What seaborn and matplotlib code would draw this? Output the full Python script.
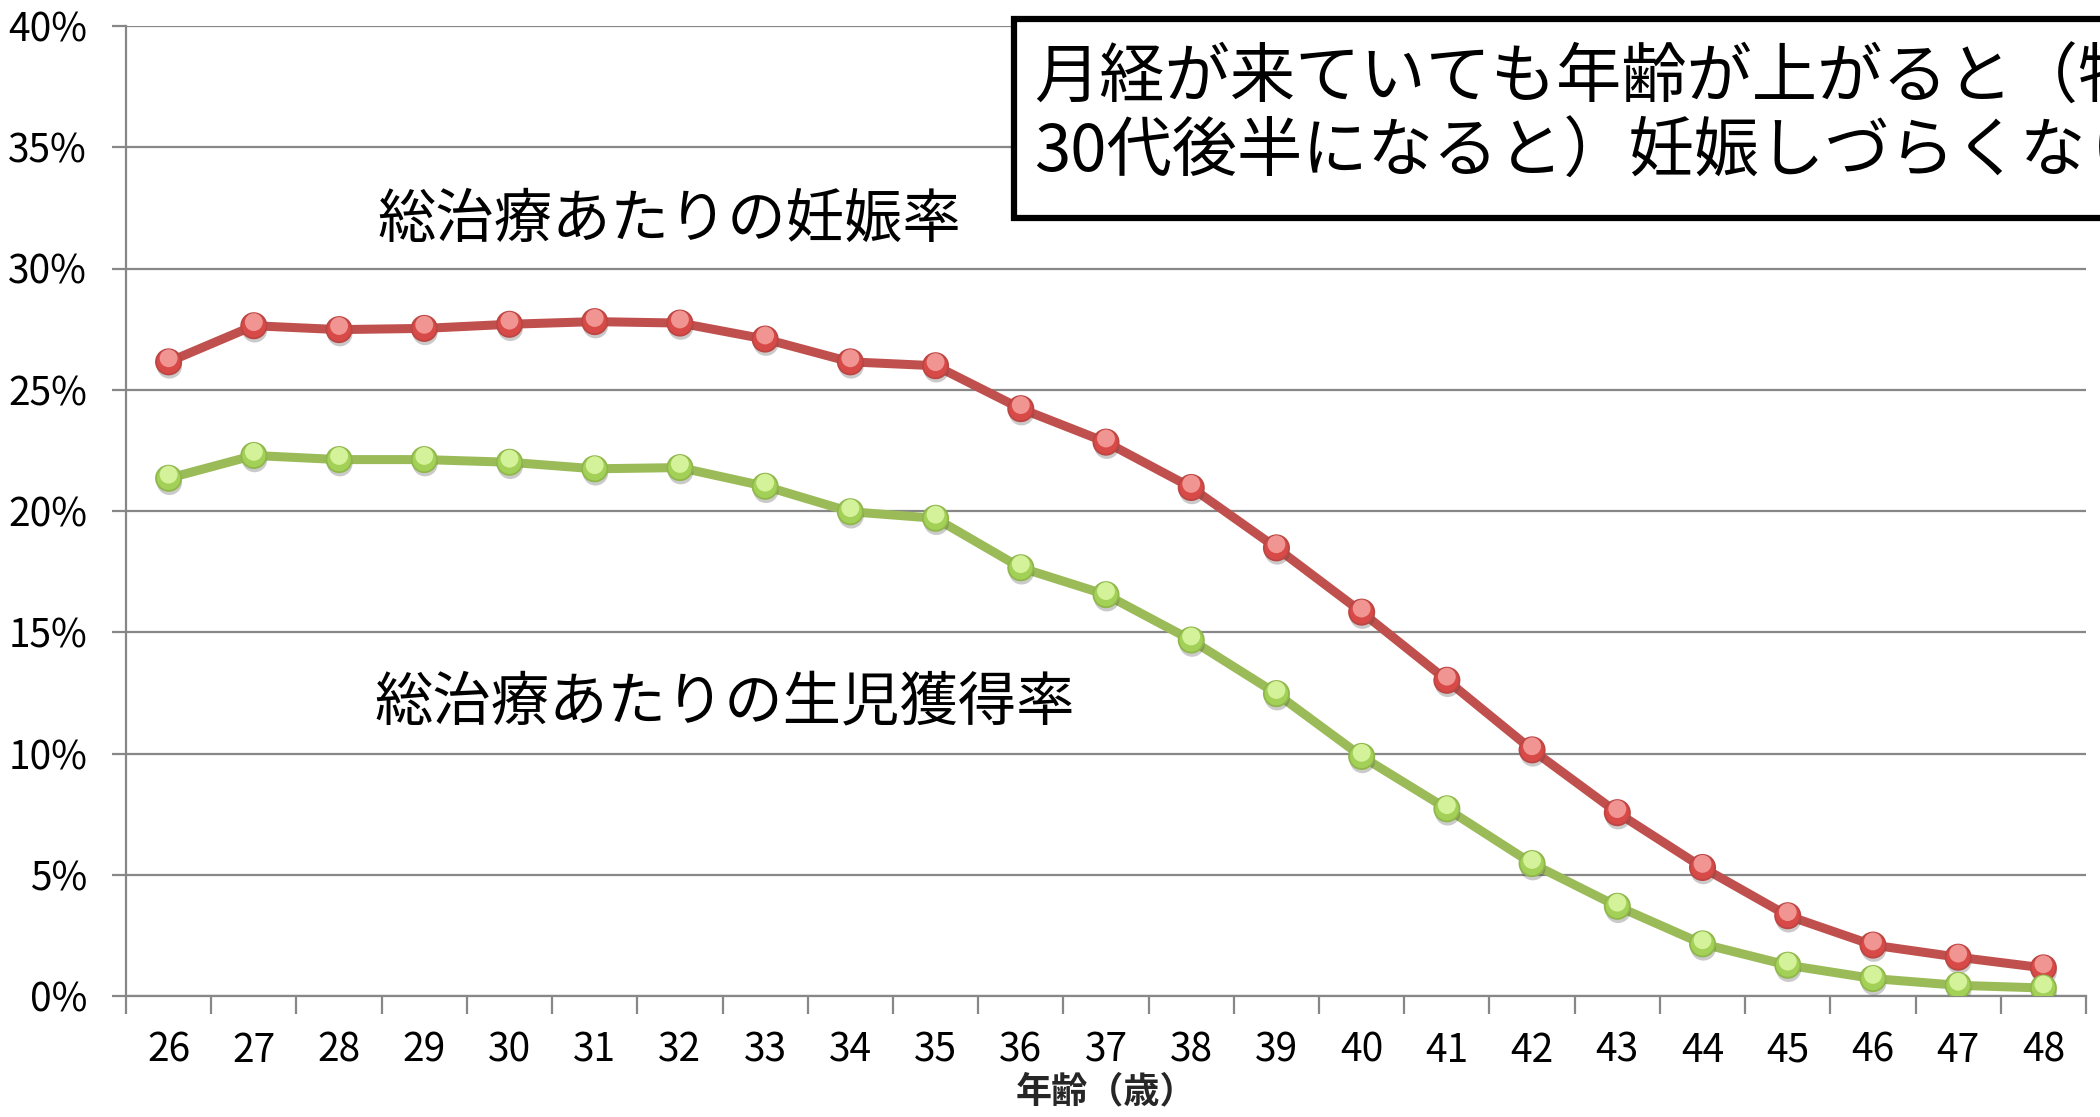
import matplotlib
matplotlib.use("Agg")
import matplotlib.pyplot as plt
import pandas as pd
import seaborn as sns
from matplotlib import patheffects as pe
from matplotlib.patches import Rectangle
from matplotlib.ticker import FixedLocator, NullFormatter
from matplotlib.transforms import ScaledTranslation

# ---- data -----------------------------------------------------------------
ages = list(range(26, 49))
pregnancy_rate = [26.15, 27.64, 27.48, 27.53, 27.70, 27.81, 27.75, 27.09, 26.15,
                  25.99, 24.22, 22.84, 20.97, 18.48, 15.83, 13.02, 10.15, 7.56,
                  5.30, 3.31, 2.10, 1.60, 1.16]
live_birth_rate = [21.35, 22.29, 22.12, 22.12, 22.01, 21.74, 21.79, 21.02, 19.97,
                   19.70, 17.66, 16.55, 14.68, 12.47, 9.88, 7.72, 5.46, 3.70,
                   2.15, 1.27, 0.72, 0.44, 0.33]
series_names = ["総治療あたりの妊娠率", "総治療あたりの生児獲得率"]
y_ticks = [0, 5, 10, 15, 20, 25, 30, 35, 40]
x_label = "年齢（歳）"
headline = ["月経が来ていても年齢が上がると（特に",
            "30代後半になると）妊娠しづらくなります"]

df = pd.DataFrame({
    "age": ages * 2,
    "rate": pregnancy_rate + live_birth_rate,
    "series": [series_names[0]] * len(ages) + [series_names[1]] * len(ages),
})

# ---- style ----------------------------------------------------------------
sns.set_theme(style="white")
plt.rcParams["font.family"] = ["Noto Sans CJK JP", "DejaVu Sans"]

line_colors = {series_names[0]: "#C0504D", series_names[1]: "#9BBB59"}
dot_dark = {series_names[0]: "#D84A47", series_names[1]: "#A3D056"}
dot_light = {series_names[0]: "#F49E9C", series_names[1]: "#DAF6A2"}
dot_edge = {series_names[0]: "#BC4643", series_names[1]: "#90B74C"}
grid_gray = "#878787"

W, H = 2100, 1117
fig = plt.figure(figsize=(W / 100, H / 100), dpi=100)
fig.patch.set_facecolor("white")
ax = fig.add_axes([126 / W, 1 - 996 / H, (2086 - 126) / W, (996 - 26) / H])

# connecting lines
sns.lineplot(data=df, x="age", y="rate", hue="series", palette=line_colors,
             linewidth=6.5, legend=False, ax=ax, zorder=2)

# round markers with a soft shadow and a lighter upper half
lift = ScaledTranslation(0, 2.6 / 72, fig.dpi_scale_trans)
for name in series_names:
    sub = df[df["series"] == name]
    sns.scatterplot(data=sub, x="age", y="rate", color=dot_dark[name], s=330,
                    edgecolor=dot_edge[name], linewidth=1.3, legend=False,
                    ax=ax, zorder=3)
    base = ax.collections[-1]
    base.set_path_effects([pe.SimplePatchShadow(offset=(0.6, -3.0), shadow_rgbFace="#444444", alpha=0.28),
                           pe.Normal()])
    sns.scatterplot(data=sub, x="age", y="rate", color=dot_light[name], s=165,
                    edgecolor="none", linewidth=0, legend=False, ax=ax, zorder=4,
                    alpha=0.9)
    hl = ax.collections[-1]
    hl.set_offset_transform(ax.transData + lift)

# ---- axes -----------------------------------------------------------------
ax.set_xlim(ages[0] - 0.5, ages[-1] + 0.5)
ax.set_ylim(0, 40)
ax.set_yticks(y_ticks)
ax.set_yticklabels([f"{v}%" for v in y_ticks])
ax.set_xticks(ages)
ax.set_xticklabels([str(a) for a in ages])
ax.xaxis.set_minor_locator(FixedLocator([a - 0.5 for a in ages] + [ages[-1] + 0.5]))
ax.xaxis.set_minor_formatter(NullFormatter())

ax.yaxis.grid(True, color=grid_gray, linewidth=1.6)
ax.xaxis.grid(False)
for side in ["top", "right"]:
    ax.spines[side].set_visible(False)
for side in ["left", "bottom"]:
    ax.spines[side].set_color(grid_gray)
    ax.spines[side].set_linewidth(1.6)

ax.tick_params(axis="y", which="major", direction="out", length=10, width=1.6,
               color=grid_gray, left=True, pad=18, labelsize=28, labelcolor="black")
ax.tick_params(axis="x", which="major", length=0, pad=25, labelsize=28,
               labelcolor="black")
ax.tick_params(axis="x", which="minor", direction="out", length=13, width=1.6,
               color=grid_gray, bottom=True)

ax.set_xlabel(x_label, fontsize=26, fontweight="bold", labelpad=2)
ax.set_ylabel("")

# series captions
ax.text(28.45, 32.0, series_names[0], fontsize=42, ha="left", va="center", color="black")
ax.text(28.42, 12.1, series_names[1], fontsize=42, ha="left", va="center", color="black")

# headline box running off the right edge
box = Rectangle((1014 / W, 1 - 218 / H), 0.6, (218 - 19) / H, transform=fig.transFigure,
                facecolor="white", edgecolor="black", linewidth=4.5, zorder=10,
                clip_on=False)
fig.add_artist(box)
fig.text(1034 / W, 1 - 79 / H, headline[0], fontsize=47, ha="left", va="center",
         color="black", zorder=11)
fig.text(1034 / W, 1 - 153 / H, headline[1], fontsize=47, ha="left", va="center",
         color="black", zorder=11)

fig.savefig("out.png", dpi=100, facecolor="white")
